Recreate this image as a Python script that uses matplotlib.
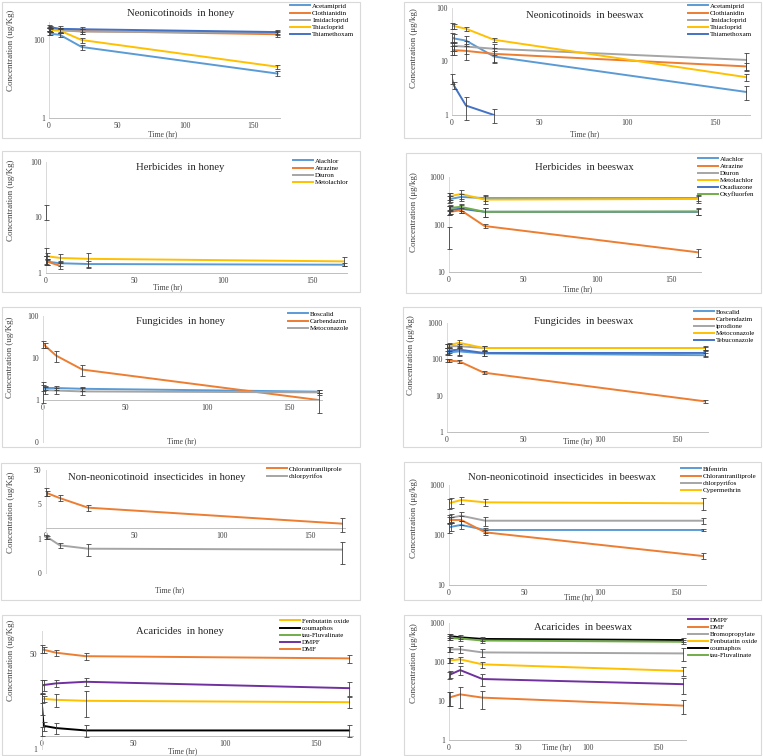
import numpy as np
import matplotlib
matplotlib.use("Agg")
import matplotlib.pyplot as plt
from matplotlib.patches import Rectangle
from matplotlib.ticker import NullLocator

plt.rcParams['font.family'] = ['Liberation Serif', 'DejaVu Serif']

# sampling times (hr)
time_hr = [0, 1, 8, 24, 168]
nan = np.nan

# Excel default palette
BLUE, ORANGE, GRAY, YELLOW = '#5B9BD5', '#ED7D31', '#A5A5A5', '#FFC000'
DBLUE, GREEN, PURPLE, BLACK = '#4472C4', '#70AD47', '#7030A0', '#000000'

# ---- data: (name, values, error) per panel ----
neo_honey = [
    ("Acetamiprid", [160, 150, 140, 68, 14], [20, 15, 15, 10, 2]),
    ("Clothianidin", [200, 190, 185, 175, 145], [25, 20, 30, 25, 25]),
    ("Imidacloprid", [195, 190, 185, 170, 160], [20, 20, 25, 25, 20]),
    ("Thiacloprid", [190, 185, 180, 103, 21], [20, 20, 20, 15, 3]),
    ("Thiamethoxam", [230, 220, 200, 195, 165], [20, 20, 30, 30, 20]),
]
neo_wax = [
    ("Acetamiprid", [28.6, 27, 24.6, 12.4, 2.7], [6, 5, 5, 3, 0.8]),
    ("Clothianidin", [16.5, 16.3, 15.8, 13.9, 8.1], [3, 3, 5, 4, 1.2]),
    ("Imidacloprid", [19.6, 19.5, 19, 17.3, 10.7], [4, 4, 5, 4, 4]),
    ("Thiacloprid", [47, 46, 41, 25.5, 5.1], [6, 5, 4, 2, 0.7]),
    ("Thiamethoxam", [4.8, 3.6, 1.5, 1.0, nan], [1.0, 0.5, 0.7, 0.3, nan]),
]
herb_honey = [
    ("Alachlor", [1.7, 1.6, 1.5, 1.45, 1.41], [0.3, 0.2, 0.15, 0.2, 0.08]),
    ("Atrazine", [1.75, 1.6, 1.35, nan, nan], [0.3, 0.2, 0.15, nan, nan]),
    ("Diuron", [13, nan, nan, nan, nan], [4, nan, nan, nan, nan]),
    ("Metolachlor", [2.4, 2.0, 1.87, 1.8, 1.62], [0.4, 0.3, 0.3, 0.5, 0.3]),
]
herb_wax = [
    ("Alachlor", [340, 345, 380, 360, 360], [50, 50, 60, 50, 50]),
    ("Atrazine", [180, 185, 200, 93, 26], [20, 20, 25, 10, 5]),
    ("Diuron", [60, nan, nan, nan, nan], [30, nan, nan, nan, nan]),
    ("Metolachlor", [390, 395, 440, 335, 345], [60, 60, 90, 70, 60]),
    ("Oxadiazone", [200, 205, 215, 185, 185], [40, 40, 40, 40, 30]),
    ("Oxyfluorfen", [220, 225, 235, 185, 188], [30, 30, 40, 40, 30]),
]
fung_honey = [
    ("Boscalid", [1.95, 1.93, 1.93, 1.85, 1.58], [0.3, 0.2, 0.2, 0.2, 0.15]),
    ("Carbendazim", [21.6, 20, 11.4, 5.3, 1.0], [4, 3, 3.5, 1.5, 0.5]),
    ("Metoconazole", [1.75, 1.72, 1.68, 1.6, 1.52], [0.9, 0.3, 0.3, 0.3, 0.2]),
]
fung_wax = [
    ("Boscalid", [150, 155, 165, 145, 130], [20, 20, 40, 20, 15]),
    ("Carbendazim", [93, 92, 88, 43, 7.0], [8, 8, 8, 4, 0.6]),
    ("iprodione", [230, 230, 230, 205, 205], [30, 30, 30, 30, 20]),
    ("Metoconazole", [240, 245, 285, 205, 205], [30, 30, 60, 30, 30]),
    ("Tebuconazole", [170, 175, 185, 150, 150], [30, 30, 50, 30, 30]),
]
insect_honey = [
    ("Chlorantraniliprole", [11.5, 10.5, 7.6, 4.0, 1.37], [3, 2, 1.5, 0.8, 0.6]),
    ("chlorpyrifos", [0.58, 0.55, 0.32, 0.255, 0.24], [0.08, 0.05, 0.05, 0.1, 0.15]),
]
insect_wax = [
    ("Bifentrin", [140, 145, 159, 126, 126], [30, 25, 30, 15, 8]),
    ("Chlorantraniliprole", [195, 200, 200, 113, 38], [30, 30, 40, 15, 5]),
    ("chlorpyrifos", [215, 220, 243, 193, 193], [40, 40, 50, 40, 30]),
    ("Cypermethrin", [430, 440, 500, 450, 430], [100, 100, 80, 70, 120]),
]
acar_honey = [
    ("Fenbutatin oxide", [8.1, 7.9, 7.6, 7.3, 6.9], [1.5, 1, 2, 3.5, 1.5]),
    ("coumaphos", [7.1, 2.6, 2.37, 2.15, 2.15], [3, 0.5, 0.5, 0.5, 0.5]),
    ("tau-Fluvalinate", [2.1, nan, nan, nan, nan], [0.4, nan, nan, nan, nan]),
    ("DMPF", [13.5, 14, 15, 16, 12.3], [4, 3, 2, 2.5, 3.5]),
    ("DMF", [63, 60, 53, 46, 42], [10, 8, 6, 7, 7]),
]
acar_wax = [
    ("DMPF", [46, 48, 62, 36.6, 27], [10, 10, 15, 12, 12]),
    ("DMF", [12.4, 12.5, 14.8, 12.2, 7.6], [5, 5, 8, 6, 3]),
    ("Bromopropylate", [211, 211, 211, 176, 166], [30, 30, 40, 40, 60]),
    ("Fenbutatin oxide", [108, 110, 117, 87, 59], [15, 15, 20, 15, 15]),
    ("coumaphos", [473, 460, 430, 390, 365], [60, 50, 50, 50, 40]),
    ("tau-Fluvalinate", [420, 410, 400, 355, 330], [50, 50, 50, 50, 40]),
]

W, H = 763, 756
fig = plt.figure(figsize=(W / 100, H / 100), dpi=100)
fig.patch.set_facecolor('white')


def px(x, y):
    return x / W, 1 - y / H


# panel layout in pixels: axes = (x of t=0, px per hr, top, bottom)
panels = [
    dict(data=neo_honey, colors=[BLUE, ORANGE, GRAY, YELLOW, DBLUE],
         title="Neonicotinoids  in honey", honey=True,
         ax=(49, 1.36, 22, 118), ylim=(1, 300), yt=[1, 100], ytl=["1", "100"], spine=None,
         box=(2, 2, 360, 138), tpos=(181, 14), ypos=(11, 50), xpos=(163, 134), leg=(290, 3)),
    dict(data=neo_wax, colors=[BLUE, ORANGE, GRAY, YELLOW, DBLUE],
         title="Neonicotinoids  in beeswax", honey=False,
         ax=(452, 1.75, 8, 115), ylim=(1, 100), yt=[1, 10, 100], ytl=["1", "10", "100"], spine=None,
         box=(404, 2, 761, 138), tpos=(585, 15), ypos=(414, 48), xpos=(585, 134), leg=(688, 3)),
    dict(data=herb_honey, colors=[BLUE, ORANGE, GRAY, YELLOW],
         title="Herbicides  in honey", honey=True,
         ax=(45.7, 1.773, 162, 273), ylim=(1, 100), yt=[1, 10, 100], ytl=["1", "10", "100"], spine=None,
         box=(2, 151, 360, 292), tpos=(180, 168), ypos=(11, 200), xpos=(168, 287), leg=(293, 158)),
    dict(data=herb_wax, colors=[BLUE, ORANGE, GRAY, YELLOW, DBLUE, GREEN],
         title="Herbicides  in beeswax", honey=False,
         ax=(449, 1.48, 177, 272), ylim=(10, 1000), yt=[10, 100, 1000], ytl=["10", "100", "1000"], spine=None,
         box=(406, 153, 761, 293), tpos=(584, 168), ypos=(414, 212), xpos=(578, 289), leg=(698, 156)),
    dict(data=fung_honey, colors=[BLUE, ORANGE, GRAY],
         title="Fungicides  in honey", honey=True,
         ax=(43, 1.64, 316, 442), ylim=(0.1, 100), yt=[0.1, 1, 10, 100], ytl=["0", "1", "10", "100"], spine=1,
         box=(2, 307, 360, 447), tpos=(180, 322), ypos=(10, 357), xpos=(182, 441), leg=(288, 311)),
    dict(data=fung_wax, colors=[BLUE, ORANGE, GRAY, YELLOW, DBLUE],
         title="Fungicides  in beeswax", honey=False,
         ax=(447, 1.533, 323, 432), ylim=(1, 1000), yt=[1, 10, 100, 1000], ytl=["1", "10", "100", "1000"], spine=None,
         box=(403, 307, 761, 447), tpos=(584, 321), ypos=(411, 355), xpos=(578, 441), leg=(694, 309)),
    dict(data=insect_honey, colors=[ORANGE, GRAY],
         title="Non-neonicotinoid  insecticides  in honey", honey=True,
         ax=(45.7, 1.763, 470, 573), ylim=(0.05, 50), yt=[0.05, 0.5, 5, 50], ytl=["0", "1", "5", "50"], spine=1,
         box=(1, 463, 360, 600), tpos=(157, 477), ypos=(11, 512), xpos=(170, 590), leg=(267, 466)),
    dict(data=insect_wax, colors=[BLUE, ORANGE, GRAY, YELLOW],
         title="Non-neonicotinoid  insecticides  in beeswax", honey=False,
         ax=(449, 1.51, 485, 585), ylim=(10, 1000), yt=[10, 100, 1000], ytl=["10", "100", "1000"], spine=None,
         box=(404, 462, 761, 600), tpos=(562, 477), ypos=(414, 518), xpos=(579, 597), leg=(681, 466)),
    dict(data=acar_honey, colors=[YELLOW, BLACK, GREEN, PURPLE, ORANGE],
         title="Acaricides  in honey", honey=True,
         ax=(41.7, 1.83, 631, 749), ylim=(1, 130), yt=[1, 50], ytl=["1", "50"], spine=1.7,
         box=(2, 615, 360, 755), tpos=(180, 631), ypos=(11, 660), xpos=(183, 751), leg=(280, 618)),
    dict(data=acar_wax, colors=[PURPLE, ORANGE, GRAY, YELLOW, BLACK, GREEN],
         title="Acaricides  in beeswax", honey=False,
         ax=(449, 1.393, 623, 740), ylim=(1, 1000), yt=[1, 10, 100, 1000], ytl=["1", "10", "100", "1000"], spine=None,
         box=(404, 615, 761, 755), tpos=(583, 627), ypos=(414, 663), xpos=(557, 747), leg=(688, 617)),
]

for p in panels:
    # light grey chart border
    bx0, by0, bx1, by1 = p["box"]
    fig.add_artist(Rectangle(px(bx0, by1), (bx1 - bx0) / W, (by1 - by0) / H,
                             transform=fig.transFigure, fill=False,
                             edgecolor='#D9D9D9', linewidth=0.8))

    x0, scale, top, bottom = p["ax"]
    xmax = 170
    l, b = px(x0, bottom)
    ax = fig.add_axes([l, b, xmax * scale / W, (bottom - top) / H])
    ax.set_facecolor('none')
    ax.set_yscale('log')
    ax.set_xlim(0, xmax)
    ax.set_ylim(*p["ylim"])
    ax.set_yticks(p["yt"])
    ax.set_yticklabels(p["ytl"])
    ax.yaxis.set_minor_locator(NullLocator())
    ax.set_xticks([0, 50, 100, 150])
    ax.tick_params(length=0, labelsize=5.5, colors='#404040', pad=3)
    for s in ["top", "right"]:
        ax.spines[s].set_visible(False)
    ax.spines["left"].set_color('#D9D9D9')
    ax.spines["left"].set_linewidth(0.7)
    ax.spines["bottom"].set_color('#BFBFBF')
    ax.spines["bottom"].set_linewidth(0.7)
    if p["spine"] is not None:
        ax.spines["bottom"].set_position(('data', p["spine"]))

    for (name, vals, err), c in zip(p["data"], p["colors"]):
        v = np.array(vals, dtype=float)
        e = np.array(err, dtype=float)
        n_ok = np.sum(~np.isnan(v))
        eb = ax.errorbar(time_hr, v, yerr=e, fmt='none', ecolor='#404040',
                         elinewidth=0.6, capsize=1.8, capthick=0.6, zorder=3)
        for art in eb.get_children():
            art.set_clip_on(False)
        if n_ok > 1:
            ax.plot(time_hr, v, color=c, lw=1.4, label=name, zorder=2)
        else:
            ax.plot([], [], color=c, lw=1.4, label=name)

    lx, ly = px(*p["leg"])
    ax.legend(loc='upper left', bbox_to_anchor=(lx, ly), bbox_transform=fig.transFigure,
              frameon=False, fontsize=5.0, handlelength=2.9, handletextpad=0.3,
              labelspacing=0.18, borderpad=0, borderaxespad=0)

    tx, ty = px(*p["tpos"])
    fig.text(tx, ty, p["title"], ha='center', va='center', fontsize=7.7, color='#262626')
    yx, yy = px(*p["ypos"])
    ylab = "Concentration (ug/Kg)" if p["honey"] else "Concentration (\u03bcg/kg)"
    fig.text(yx, yy, ylab, rotation=90, ha='center', va='center', fontsize=6.5, color='#404040')
    xx, xy = px(*p["xpos"])
    fig.text(xx, xy, "Time (hr)", ha='center', va='center', fontsize=5.5, color='#404040')

fig.savefig("out.png", dpi=100, facecolor='white')
